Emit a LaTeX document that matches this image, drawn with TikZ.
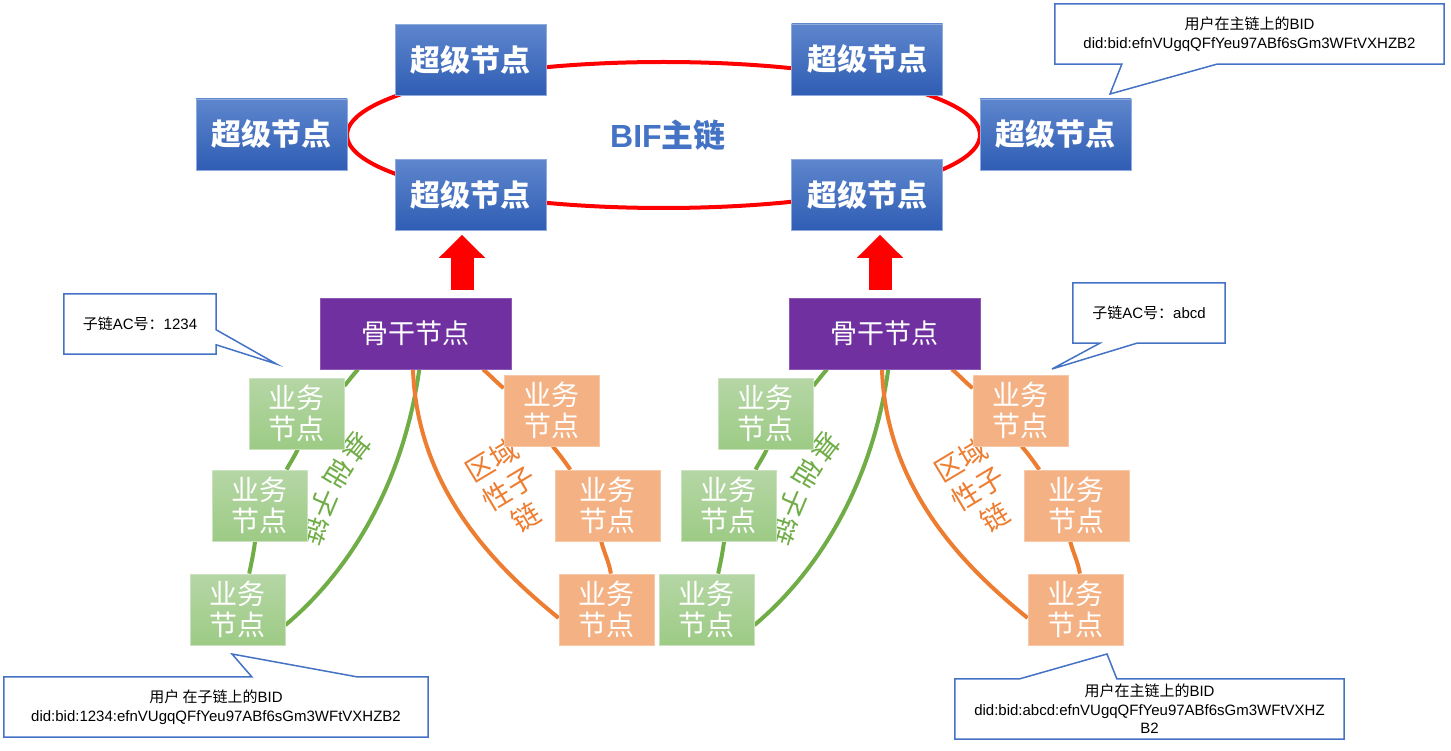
\documentclass[tikz,border=0pt]{standalone}
\usepackage{fontspec}
\setmainfont{Liberation Sans}
\newfontfamily\cjk{Noto Sans CJK SC}
\usepackage{tikz}
\usetikzlibrary{arrows.meta, backgrounds, calc}

\definecolor{supertop}{HTML}{5E86CD}
\definecolor{superbot}{HTML}{2F5DB4}
\definecolor{superedge}{HTML}{8FAADC}
\definecolor{bifblue}{HTML}{4472C4}
\definecolor{backpurple}{HTML}{7030A0}
\definecolor{biztop}{HTML}{B5D6A5}
\definecolor{bizbot}{HTML}{9DCB85}
\definecolor{zonefill}{HTML}{F4B183}
\definecolor{chaingreen}{HTML}{70AD47}
\definecolor{chainorange}{HTML}{ED7D31}

\begin{document}
\begin{tikzpicture}[
      x=1pt, y=1pt,
      every node/.style={inner sep=0pt, align=center},
      super/.style={rectangle, draw=superedge, line width=0.8pt, top color=supertop, bottom color=superbot, minimum width=151pt, minimum height=71pt, text=white, font=\cjk\bfseries\fontsize{30}{32}\selectfont},
      backbone/.style={rectangle, draw=backpurple!80!white, line width=0.8pt, fill=backpurple, minimum width=191pt, minimum height=71pt, text=white, font=\cjk\fontsize{27}{30}\selectfont},
      biz/.style={rectangle, draw=biztop!70!white, line width=0.8pt, top color=biztop, bottom color=bizbot, minimum width=95pt, minimum height=71pt, text=white, font=\cjk\fontsize{28}{31}\selectfont},
      zone/.style={rectangle, draw=zonefill!70!white, line width=0.8pt, fill=zonefill, minimum width=95pt, minimum height=71pt, text=white, font=\cjk\fontsize{28}{31}\selectfont},
      chainlabel/.style={font=\cjk\fontsize{28}{33}\selectfont},
      ring/.style={draw=red, line width=4pt},
      greenchain/.style={draw=chaingreen, line width=4pt},
      orangechain/.style={draw=chainorange, line width=4pt},
      uparrow/.style={draw=red, line width=23pt, -{Triangle[length=23pt, width=45pt]}, shorten <=8pt, shorten >=4pt},
      note/.style={font=\fontsize{15}{18.5}\selectfont, text=black},
      noteline/.style={draw=bifblue, line width=1.5pt, fill=white, line join=miter}
    ]
    \useasboundingbox (0,0) rectangle (1451,-751);

    % BIF main chain: super nodes on a ring
    \node[super] (supTL) at (470.5,-60) {超级节点};
    \node[super] (supL) at (271.5,-134.5) {超级节点};
    \node[super] (supBL) at (470.5,-195) {超级节点};
    \node[super] (supTR) at (867,-59.5) {超级节点};
    \node[super] (supR) at (1055.5,-134.5) {超级节点};
    \node[super] (supBR) at (867,-195) {超级节点};
    \node[font=\bfseries\fontsize{32}{34}\selectfont, text=bifblue] (bif) at (668,-135) {BIF{\cjk 主链}};
    \coordinate (ringc) at (663.5,-135);
    \begin{scope}[on background layer]
      \draw[ring] (ringc) ellipse [x radius=316.5, y radius=73];
    \end{scope}

    % two sub chains under a backbone node each
    \foreach \g/\dx/\ax in {L/0/462, R/469/880} {
      \begin{scope}[xshift=\dx]
        \node[backbone] (back\g) at (415.5,-333.5) {骨干节点};
        \node[biz] (gA\g) at (296.5,-413.5) {业务\\节点};
        \node[biz] (gB\g) at (259.5,-505.5) {业务\\节点};
        \node[biz] (gC\g) at (237.5,-609.5) {业务\\节点};
        \node[zone] (oA\g) at (551.5,-410.5) {业务\\节点};
        \node[zone, minimum width=105pt] (oB\g) at (607.5,-505.5) {业务\\节点};
        \node[zone] (oC\g) at (606.5,-609.5) {业务\\节点};
        \begin{scope}[on background layer]
          \draw[greenchain] (back\g.212) to[out=228, in=50] (gA\g.30)
            (gA\g.272) to[out=245, in=62] (gB\g.53)
            (gB\g.263) to[out=262, in=78] (gC\g.72)
            (gC\g.-18) .. controls +(40:80) and +(262:120) .. (back\g.276);
          \draw[orangechain] (back\g.-28) to[out=-40, in=140] (oA\g.155)
            (oA\g.272) to[out=-50, in=125] (oB\g.136)
            (oB\g.260) to[out=-75, in=100] (oC\g.83)
            (oC\g.190) .. controls +(141:80) and +(272:120) .. (back\g.266);
          % label bent along the green chain
          \foreach \c/\px/\py/\r [count=\k] in {基/357/-447/232, 础/338/-474/239, 子/324/-503/247, 链/315/-531/253}
            \node[chainlabel, text=chaingreen, rotate=\r] (lblG\g\k) at (\px,\py) {\c};
          \node[chainlabel, text=chainorange, rotate=31] (lblO\g) at (508.5,-488.5) {区域\\性子\\链};
        \end{scope}
      \end{scope}
      \coordinate (arr\g) at (\ax,-262);
      \draw[uparrow] (back\g.north -| arr\g) -- (supB\g.south -| arr\g);
    }

    % callouts
    \node[note, minimum width=152pt, minimum height=60pt] (acL) at (140,-324) {{\cjk 子链}AC{\cjk 号：}1234};
    \coordinate (acLtip) at (276.5,-364);
    \node[note, minimum width=152pt, minimum height=60pt] (acR) at (1149,-313) {{\cjk 子链}AC{\cjk 号：}abcd};
    \coordinate (acRtip) at (1052,-369);
    \node[note, minimum width=389pt, minimum height=60pt] (bidMain) at (1249.5,-34) {{\cjk 用户在主链上的}BID\\did:bid:efnVUgqQFfYeu97ABf6sGm3WFtVXHZB2};
    \coordinate (bidMaintip) at (1110,-94);
    \node[note, minimum width=424pt, minimum height=60pt] (bidL) at (216,-707) {{\cjk 用户 在子链上的}BID\\did:bid:1234:efnVUgqQFfYeu97ABf6sGm3WFtVXHZB2};
    \coordinate (bidLtip) at (232,-654);
    \node[note, minimum width=389pt, minimum height=60pt] (bidR) at (1149.5,-709) {{\cjk 用户在主链上的}BID\\did:bid:abcd:efnVUgqQFfYeu97ABf6sGm3WFtVXHZ\\B2};
    \coordinate (bidRtip) at (1107,-654);
    \begin{scope}[on background layer]
      \draw[noteline] (acL.north west) -- (acL.north east) -- ([yshift=-36pt]acL.north east) -- (acLtip) -- ([yshift=-51pt]acL.north east) -- (acL.south east) -- (acL.south west) -- cycle;
      \draw[noteline] (acR.north west) -- (acR.north east) -- (acR.south east) -- ([xshift=64pt]acR.south west) -- (acRtip) -- ([xshift=27pt]acR.south west) -- (acR.south west) -- cycle;
      \draw[noteline] (bidMain.north west) -- (bidMain.north east) -- (bidMain.south east) -- ([xshift=162pt]bidMain.south west) -- (bidMaintip) -- ([xshift=67pt]bidMain.south west) -- (bidMain.south west) -- cycle;
      \draw[noteline] (bidL.north west) -- ([xshift=248pt]bidL.north west) -- (bidLtip) -- ([xshift=353pt]bidL.north west) -- (bidL.north east) -- (bidL.south east) -- (bidL.south west) -- cycle;
      \draw[noteline] (bidR.north west) -- ([xshift=65pt]bidR.north west) -- (bidRtip) -- ([xshift=162pt]bidR.north west) -- (bidR.north east) -- (bidR.south east) -- (bidR.south west) -- cycle;
    \end{scope}
\end{tikzpicture}
\end{document}
